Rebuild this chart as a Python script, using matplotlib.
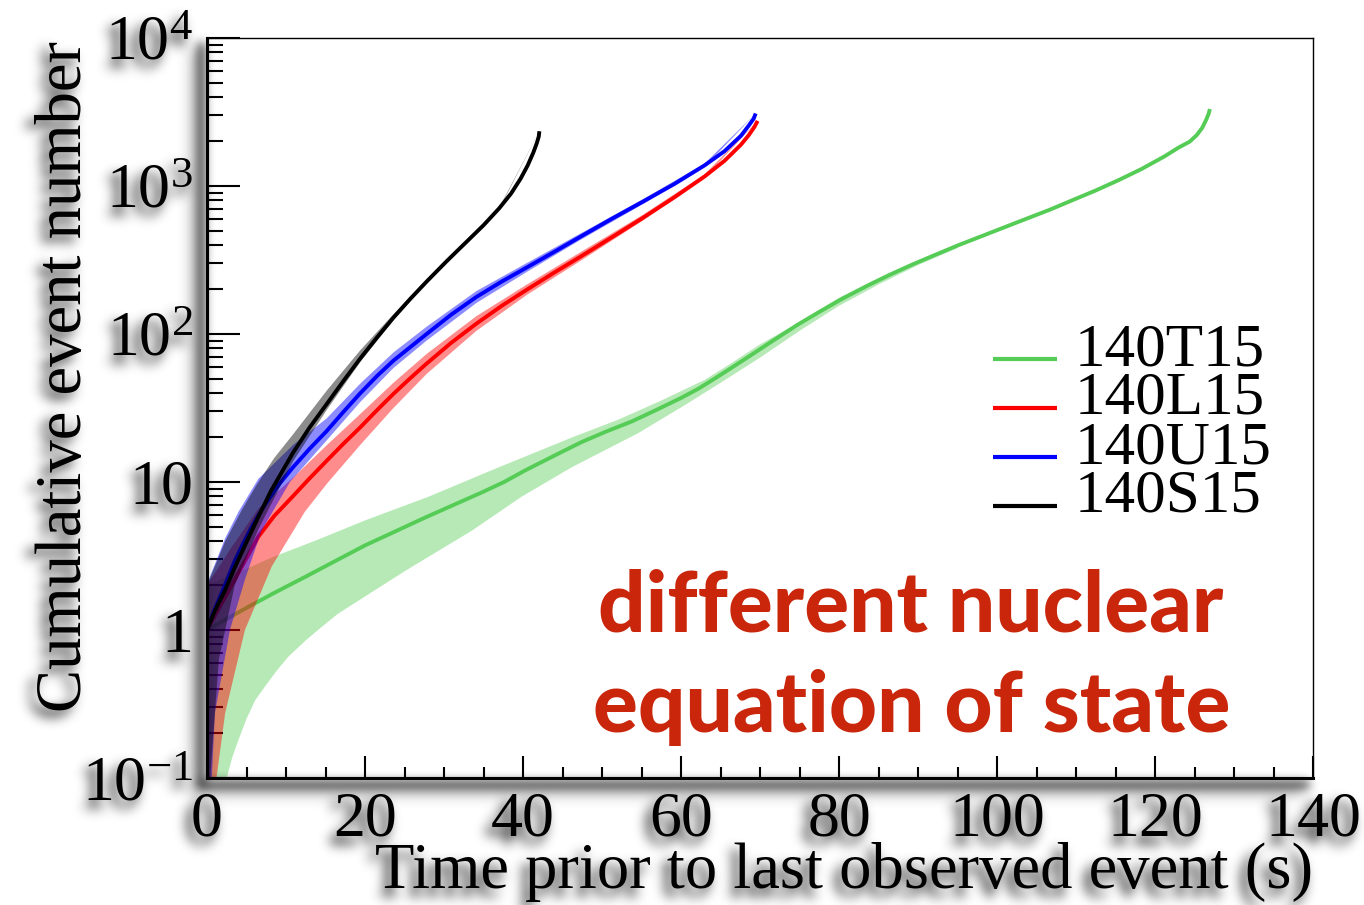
import matplotlib
matplotlib.use("Agg")
import numpy as np
import matplotlib.pyplot as plt
from matplotlib.ticker import FixedLocator, FixedFormatter, LogLocator, NullFormatter, MultipleLocator

plt.rcParams['font.family'] = ['Liberation Serif', 'DejaVu Serif']
plt.rcParams['mathtext.default'] = 'regular'

# ---------------- data ----------------
series_names = ["140T15", "140L15", "140U15", "140S15"]
series_colors = ["#55cc55", "#ff0000", "#0000ff", "#000000"]

# 140T15 (green)
t_T = [0, 2.5, 5.2, 8.5, 12.4, 16.0, 20.0, 24.0, 27.2, 31.0, 34.8, 37.6, 40.3, 44.0, 47.4, 50.5,
       53.8, 57.0, 60.1, 62.2, 64.3, 66.5, 68.8, 71.5, 74.7, 77.5, 80.5, 83.5, 86.4, 89.3, 92.2,
       95.1, 98.0, 100.9, 103.8, 106.7, 109.6, 112.5, 115.4, 118.3, 121.2, 123.0, 124.4, 125.3,
       126.0, 126.5, 126.8, 126.95]
n_T = [1.0, 1.19, 1.43, 1.78, 2.28, 2.88, 3.73, 4.68, 5.62, 6.92, 8.51, 10.0, 12.0, 15.1, 18.6,
       21.9, 25.7, 30.9, 37.2, 42.7, 50.1, 59.6, 71.6, 89.1, 115, 141, 174, 211, 251, 295, 343,
       398, 457, 525, 603, 692, 804, 933, 1096, 1303, 1585, 1820, 1995, 2213, 2483, 2818, 3090, 3311]
hiT_t = [0, 4.4, 8.2, 14, 20, 28, 36.5, 46.2, 52, 57.5, 63, 66, 70, 75, 80, 85, 90, 95]
hiT_n = [2.0, 2.51, 3.09, 4.07, 5.5, 7.94, 12.3, 20.0, 26.3, 35.5, 49.0, 61.7, 85.1, 120, 176, 234, 302, 385]
loT_t = [0, 2.49, 3.2, 3.97, 5.0, 6.1, 7.5, 8.9, 10.3, 12.5, 14.5, 16.6, 25.1, 33.5, 39.8, 46.2,
         54.6, 60.5, 65.6, 70, 75, 80, 85, 90, 95]
loT_n = [0.01, 0.1, 0.138, 0.18, 0.251, 0.335, 0.427, 0.537, 0.66, 0.851, 1.047, 1.29, 2.51, 4.68,
         7.94, 12.6, 21.4, 33.1, 49.0, 69.2, 105, 155, 216, 292, 380]

# 140L15 (red)
t_L = [0, 1.5, 3.2, 5.0, 6.5, 8.5, 10.9, 13.0, 15.2, 17.3, 19.4, 21.5, 23.6, 25.7, 27.8, 30.9,
       34.1, 37.3, 40.5, 43.8, 47.2, 51.3, 55.2, 59.2, 63.0, 65.5, 67.6, 68.6, 69.3, 69.7]
n_L = [1.0, 1.40, 2.04, 3.05, 4.27, 5.89, 8.04, 10.6, 14.0, 18.2, 23.4, 30.5, 39.4, 50.1, 63.1,
       87.1, 117.5, 154.9, 199.5, 257, 331, 452, 610, 841, 1161, 1479, 1905, 2213, 2512, 2754]
hiL_t = [0, 3.0, 6.5, 10.9, 15.2, 19.4, 23.6, 27.8, 34.1, 40.5, 47.2, 55.2, 63.0, 69.7]
hiL_n = [2.0, 3.55, 6.61, 10.7, 17.8, 28.8, 46.8, 73.3, 132, 216, 355, 640, 1200, 2754]
loL_t = [0, 1.2, 2.3, 4.8, 8.2, 12.4, 15.2, 19.4, 23.6, 27.8, 34.1, 40.5, 47.2, 55.2, 63.0, 69.7]
loL_n = [0.01, 0.1, 0.275, 1.0, 2.69, 6.31, 9.77, 17.8, 31.6, 53.7, 105, 184, 310, 585, 1140, 2754]

# 140U15 (blue)
t_U = [0, 0.9, 1.86, 2.7, 3.54, 4.5, 5.5, 6.5, 7.5, 9.2, 10.9, 13.0, 15.15, 17.3, 19.4, 21.5,
       23.6, 25.7, 27.8, 30.9, 34.1, 37.3, 40.5, 43.8, 47.2, 51.3, 55.2, 59.2, 63.0, 65.5, 67.6,
       68.6, 69.2, 69.45]
n_U = [1.0, 1.35, 1.78, 2.29, 2.95, 3.76, 4.79, 5.96, 7.24, 9.77, 12.6, 16.8, 22.1, 29.9, 39.8,
       51.9, 66.1, 81.3, 100, 135, 178, 226, 282, 355, 452, 603, 785, 1035, 1380, 1718, 2188,
       2570, 2851, 3090]
hiU_t = [0, 2.3, 4.0, 6.5, 10.9, 15.15, 19.4, 23.6, 27.8, 34.1, 40.5, 47.2, 55.2, 63.0, 69.45]
hiU_n = [2.04, 4.17, 6.31, 10.5, 17.8, 26.9, 46.2, 75.0, 112, 195, 302, 475, 815, 1420, 3090]
loU_t = [0, 0.6, 1.0, 2.9, 4.8, 6.9, 10.5, 15.15, 19.4, 23.6, 27.8, 34.1, 40.5, 47.2, 55.2, 63.0, 69.45]
loU_n = [0.01, 0.1, 0.275, 1.0, 2.19, 4.68, 10.0, 19.1, 34.7, 58.9, 90.2, 162, 263, 430, 755, 1345, 3090]

# 140S15 (black)
t_S = [0, 1.0, 2.3, 3.5, 4.8, 6.5, 8.1, 10.9, 13.0, 15.2, 17.3, 19.4, 21.5, 23.6, 25.7, 27.8,
       30.3, 32.9, 35.0, 37.0, 38.5, 39.7, 40.6, 41.3, 41.75, 42.0, 42.07]
n_S = [1.0, 1.35, 1.86, 2.63, 3.72, 5.82, 8.71, 15.8, 23.4, 33.9, 48.4, 68.4, 94.4, 129, 172,
       226, 309, 422, 543, 708, 891, 1122, 1380, 1679, 1950, 2163, 2344]
hiS_t = [0, 2.3, 4.5, 6.3, 8.5, 10.9, 15.2, 19.4, 23.6, 27.8, 32.9, 37.0, 42.07]
hiS_n = [2.0, 3.98, 6.6, 9.6, 14.5, 21.0, 41.7, 77.6, 136, 234, 432, 716, 2344]
loS_t = [0, 0.4, 1.5, 3.5, 6.5, 10.9, 15.2, 19.4, 23.6, 27.8, 32.9, 37.0, 42.07]
loS_n = [0.01, 0.1, 0.63, 2.0, 4.79, 13.8, 30.9, 64.6, 124, 221, 412, 700, 2344]

lines = [(t_T, n_T), (t_L, n_L), (t_U, n_U), (t_S, n_S)]
bands = [(hiT_t, hiT_n, loT_t, loT_n), (hiL_t, hiL_n, loL_t, loL_n),
         (hiU_t, hiU_n, loU_t, loU_n), (hiS_t, hiS_n, loS_t, loS_n)]
band_alpha = [0.42, 0.45, 0.45, 0.45]

yticks = [0.1, 1, 10, 100, 1000, 10000]
ytick_labels = [r'$10^{-1}$', '1', '10', r'$10^{2}$', r'$10^{3}$', r'$10^{4}$']
xticks = [0, 20, 40, 60, 80, 100, 120, 140]

annotation = ["different nuclear", "equation of state"]
xlabel = "Time prior to last observed event (s)"
ylabel = "Cumulative event number"


# ---------------- soft drop shadow (agg filter) ----------------
def _gauss_kernel(sigma):
    r = max(1, int(3 * sigma))
    x = np.arange(-r, r + 1)
    k = np.exp(-x ** 2 / (2.0 * sigma ** 2))
    return k / k.sum()


def _blur(a, sigma):
    k = _gauss_kernel(sigma)
    a = np.apply_along_axis(np.convolve, 0, a, k, mode='same')
    a = np.apply_along_axis(np.convolve, 1, a, k, mode='same')
    return a


class SoftShadow:
    """Composites a blurred, offset grey copy beneath the artist."""

    def __init__(self, dx=-6, dy=7, sigma=6.0, strength=0.95):
        self.dx, self.dy, self.sigma, self.strength = dx, dy, sigma, strength

    def __call__(self, im, dpi):
        pad = int(3 * self.sigma + max(abs(self.dx), abs(self.dy)) + 2)
        src = np.pad(im, [(pad, pad), (pad, pad), (0, 0)], mode='constant')
        sa = src[..., 3]
        sh = _blur(sa, self.sigma) * self.strength
        sh = np.roll(sh, self.dy, axis=0)   # rows go top -> bottom
        sh = np.roll(sh, self.dx, axis=1)
        sh = np.clip(sh, 0, 1)
        out_a = sa + sh * (1 - sa)
        rgb = src[..., :3] * sa[..., None] / np.maximum(out_a, 1e-6)[..., None]
        out = np.dstack([rgb, out_a])
        return out, -pad, -pad


# ---------------- figure ----------------
W, H = 1364, 905
fig = plt.figure(figsize=(W / 100, H / 100), dpi=100)
fig.patch.set_facecolor('white')
ax = fig.add_axes([207 / W, 1 - 778 / H, (1313 - 207) / W, (778 - 38) / H])

z = 1
for (bt_hi, bn_hi, bt_lo, bn_lo), (lt, ln), col, al in zip(bands, lines, series_colors, band_alpha):
    xs = list(bt_hi) + list(bt_lo)[::-1]
    ys = list(bn_hi) + list(bn_lo)[::-1]
    ax.fill(xs, ys, color=col, alpha=al, lw=0, zorder=z)
    ax.plot(lt, ln, color=col, lw=2.8, zorder=z + 0.5, solid_capstyle='butt',
            solid_joinstyle='round')
    z += 1

ax.set_yscale('log')
ax.set_xlim(0, 140)
ax.set_ylim(0.1, 1e4)

ax.yaxis.set_major_locator(FixedLocator(yticks))
ax.yaxis.set_major_formatter(FixedFormatter(ytick_labels))
ax.yaxis.set_minor_locator(LogLocator(base=10, subs=range(2, 10)))
ax.yaxis.set_minor_formatter(NullFormatter())
ax.xaxis.set_major_locator(FixedLocator(xticks))
ax.xaxis.set_minor_locator(MultipleLocator(5))

ax.tick_params(axis='y', which='major', direction='in', length=23.8, width=1.5,
               left=True, right=False, labelsize=46, pad=10)
ax.tick_params(axis='y', which='minor', direction='in', length=11.5, width=1.5,
               left=True, right=False)
ax.tick_params(axis='x', which='major', direction='in', length=15.8, width=1.5,
               bottom=True, top=False, labelsize=46, pad=10)
ax.tick_params(axis='x', which='minor', direction='in', length=8, width=1.5,
               bottom=True, top=False)

for s in ['left', 'bottom']:
    ax.spines[s].set_linewidth(2.2)
    ax.spines[s].set_agg_filter(SoftShadow(dx=-6, dy=6, sigma=5.0, strength=1.0))
    ax.spines[s].set_zorder(10)
for s in ['top', 'right']:
    ax.spines[s].set_linewidth(1.0)

# axis labels (placed in figure pixels)
fig.text(65 / W, 1 - 376 / H, ylabel, rotation=90, ha='center', va='center', fontsize=46.5,
         agg_filter=SoftShadow(dx=-7, dy=6))
fig.text(1313 / W, 1 - 888 / H, xlabel, ha='right', va='baseline', fontsize=46.5,
         agg_filter=SoftShadow(dx=-6, dy=8))

# legend drawn manually
leg_y = [359, 408, 457, 506]
for name, col, py in zip(series_names, series_colors, leg_y):
    yy = (778 - py) / 740
    ax.plot([(993 - 207) / 1106, (1057 - 207) / 1106], [yy, yy], color=col, lw=3,
            transform=ax.transAxes, clip_on=False, zorder=20, solid_capstyle='butt')
    ax.text((1075 - 207) / 1106, (778 - (py + 6)) / 740, name, transform=ax.transAxes,
            fontsize=44, va='baseline', ha='left', zorder=20)

# annotation text
ann_col = '#c9260b'
t1 = fig.text(911 / W, 1 - 631 / H, annotation[0], ha='center', va='baseline', fontsize=60,
              color=ann_col, family=['Lato', 'DejaVu Sans'], weight=900, zorder=30)
t2 = fig.text(912 / W, 1 - 732 / H, annotation[1], ha='center', va='baseline', fontsize=60,
              color=ann_col, family=['Lato', 'DejaVu Sans'], weight=900, zorder=30)

fig.canvas.draw()
r = fig.canvas.get_renderer()
w1 = t1.get_window_extent(r).width
fs = 60 * 625 / w1
t1.set_fontsize(fs)
t2.set_fontsize(fs)

for lab in ax.get_xticklabels() + ax.get_yticklabels():
    lab.set_agg_filter(SoftShadow(dx=-6, dy=8))

fig.savefig('out.png', dpi=100, facecolor='white')
